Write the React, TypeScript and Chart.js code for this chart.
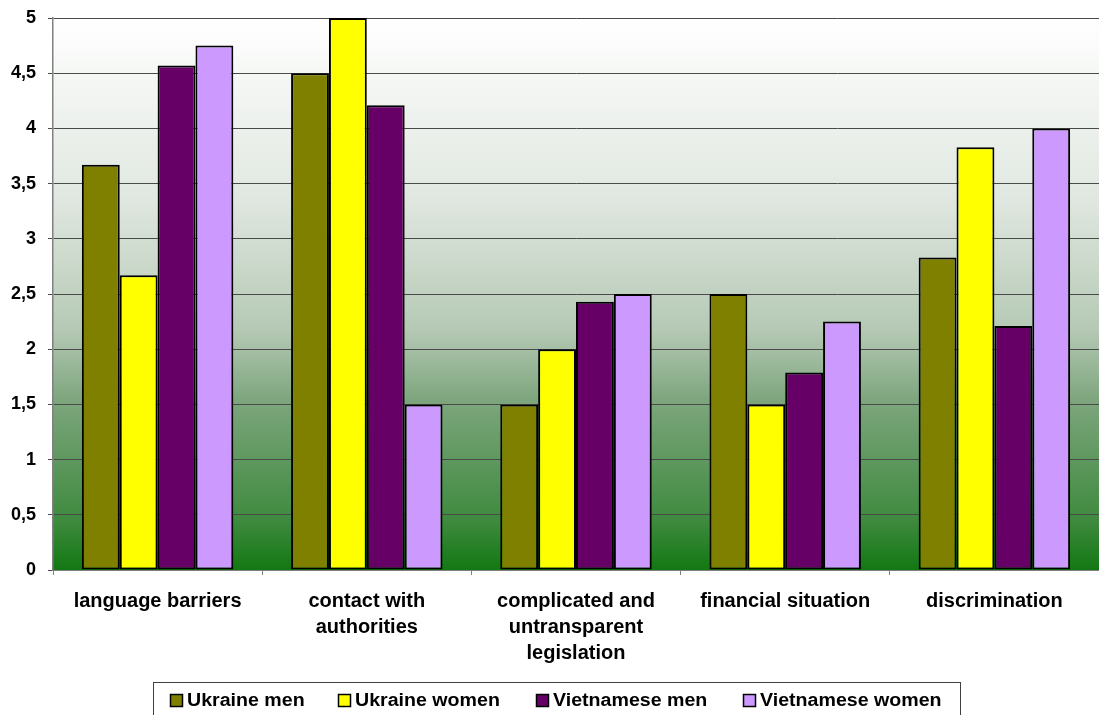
import React, { useEffect, useRef } from "react";
import { Chart, registerables } from "chart.js";

Chart.register(...registerables);

const categories: (string | string[])[] = [
  "language barriers",
  ["contact with", "authorities"],
  ["complicated and", "untransparent", "legislation"],
  "financial situation",
  "discrimination",
];

const seriesNames = ["Ukraine men", "Ukraine women", "Vietnamese men", "Vietnamese women"];
const seriesColors = ["#808000", "#ffff00", "#660066", "#cc99ff"];

const ukraineMen = [3.67, 4.5, 1.5, 2.5, 2.83];
const ukraineWomen = [2.67, 5.0, 2.0, 1.5, 3.83];
const vietnameseMen = [4.57, 4.21, 2.43, 1.79, 2.21];
const vietnameseWomen = [4.75, 1.5, 2.5, 2.25, 4.0];

const seriesValues = [ukraineMen, ukraineWomen, vietnameseMen, vietnameseWomen];

const W = 1099;
const H = 715;
const FONT = "'Liberation Sans', Arial, sans-serif";

// Plot background: white at the top fading into green at the bottom
const backgroundPlugin = {
  id: "plotBackground",
  beforeDraw(chart: any) {
    const { ctx, chartArea } = chart;
    const { left, top, right, bottom } = chartArea;
    const g = ctx.createLinearGradient(0, top, 0, bottom);
    g.addColorStop(0, "#ffffff");
    g.addColorStop(0.33, "#e0e7e0");
    g.addColorStop(0.565, "#b5c9b5");
    g.addColorStop(0.69, "#7ea67e");
    g.addColorStop(0.91, "#3f8a3f");
    g.addColorStop(1, "#127812");
    ctx.save();
    ctx.fillStyle = g;
    ctx.fillRect(left, top, right - left, bottom - top);
    ctx.restore();
  },
};

// Boxed legend row under the chart
const boxedLegendPlugin = {
  id: "boxedLegend",
  afterDraw(chart: any) {
    const { ctx } = chart;
    const boxLeft = 153;
    const boxTop = 682;
    const boxRight = 960;
    const squareX = [170, 338, 536, 743];
    const sq = 13;
    const stretch = 1.12;
    ctx.save();
    ctx.strokeStyle = "#404040";
    ctx.lineWidth = 1;
    ctx.strokeRect(boxLeft + 0.5, boxTop + 0.5, boxRight - boxLeft, H - boxTop + 2);
    chart.data.datasets.forEach((ds: any, i: number) => {
      const x = squareX[i];
      ctx.fillStyle = ds.backgroundColor;
      ctx.fillRect(x, 694, sq, sq);
      ctx.strokeStyle = "#000000";
      ctx.lineWidth = 1.5;
      ctx.strokeRect(x + 0.5, 694.5, sq - 1, sq - 1);
      ctx.save();
      ctx.translate(x + sq + 4, 701);
      ctx.scale(stretch, 1);
      ctx.fillStyle = "#000000";
      ctx.font = `bold 17.5px ${FONT}`;
      ctx.textBaseline = "middle";
      ctx.textAlign = "left";
      ctx.fillText(ds.label, 0, 0);
      ctx.restore();
    });
    ctx.restore();
  },
};

export default function App() {
  const canvasRef = useRef<HTMLCanvasElement>(null);

  useEffect(() => {
    const canvas = canvasRef.current;
    if (!canvas) return;
    const chart = new Chart(canvas, {
      type: "bar",
      data: {
        labels: categories,
        datasets: seriesNames.map((name, i) => ({
          label: name,
          data: seriesValues[i],
          backgroundColor: seriesColors[i],
          borderColor: "#000000",
          borderWidth: 2,
          borderSkipped: false,
          categoryPercentage: 0.724,
          barPercentage: 1,
        })),
      },
      options: {
        responsive: false,
        animation: false,
        layout: { padding: { top: 18, right: 0, bottom: 0, left: 0 } },
        plugins: {
          legend: { display: false },
          tooltip: { enabled: false },
        },
        scales: {
          x: {
            grid: {
              drawOnChartArea: false,
              drawTicks: true,
              tickLength: 5,
              color: "#808080",
              offset: true,
            },
            border: { display: true, color: "#808080", width: 1 },
            ticks: {
              color: "#000000",
              font: { family: FONT, size: 20, weight: "bold", lineHeight: 1.3 },
              padding: 13,
              maxRotation: 0,
              autoSkip: false,
            },
            afterFit(scale: any) {
              scale.height = H - 570;
            },
          },
          y: {
            min: 0,
            max: 5,
            ticks: {
              stepSize: 0.5,
              color: "#000000",
              padding: 12,
              font: { family: FONT, size: 18, weight: "bold" },
              callback: (v: any) => String(v).replace(".", ","),
            },
            grid: {
              color: "#4a4a4a",
              lineWidth: 1,
              drawTicks: true,
              tickLength: 5,
            },
            border: { display: true, color: "#808080", width: 1.5 },
            afterFit(scale: any) {
              scale.width = 53;
              scale.paddingTop = 0;
              scale.paddingBottom = 0;
            },
          },
        },
      },
      plugins: [backgroundPlugin, boxedLegendPlugin],
    });
    return () => chart.destroy();
  }, []);

  return (
    <div style={{ position: "fixed", left: 0, top: 0, width: W, height: H, background: "#ffffff" }}>
      <canvas ref={canvasRef} width={W} height={H} style={{ display: "block" }} />
    </div>
  );
}
